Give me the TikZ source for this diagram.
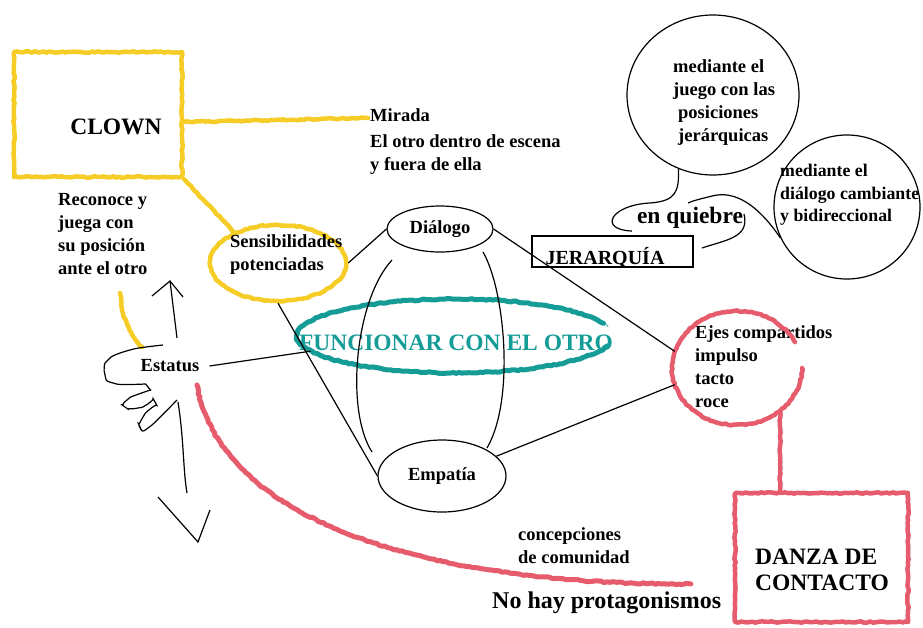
\documentclass[tikz,border=0pt]{standalone}
\usepackage{fontspec}
\setmainfont{Liberation Serif}
\usetikzlibrary{positioning}
\usetikzlibrary{calc}
\usetikzlibrary{shapes.geometric}
\usetikzlibrary{decorations.pathmorphing}
\definecolor{clownyellow}{RGB}{246,204,38}
\definecolor{danzared}{RGB}{230,92,108}
\definecolor{otroteal}{RGB}{22,156,151}
\pgfmathsetseed{7}

\tikzset{
  rough/.style={line width=#1, line cap=round, line join=round, decorate,
    decoration={random steps, segment length=3pt, amplitude=0.7pt}},
  rough/.default=4.5pt,
  txt/.style={font=\bfseries\fontsize{18.5}{23}\selectfont, align=left, inner sep=0pt},
  big/.style={font=\bfseries\fontsize{23.5}{26}\selectfont, align=left, inner sep=0pt},
  blk/.style={line width=1.2pt},
  ybox/.style={draw=clownyellow, rough, rectangle},
  rbox/.style={draw=danzared, rough, rectangle},
  yellip/.style={draw=clownyellow, rough, ellipse},
  bellip/.style={draw, blk, ellipse},
  bubble/.style={draw, blk, ellipse, inner sep=0pt},
}

\begin{document}
\begin{tikzpicture}[x=1pt,y=-1pt]
        \useasboundingbox (0,0) rectangle (923,627);

        % nodes %
        \node[ybox, minimum width=168pt, minimum height=125pt] (clown) at (98,114.5) {};
        \node[big] (clowntxt) at (116,127) {CLOWN};
        \node[txt, anchor=west] (mirada) at (370,142) {Mirada\\[3pt]El otro dentro de escena\\y fuera de ella};
        \node[txt, anchor=west] (reconoce) at (58,234) {Reconoce y\\juega con\\su posición\\ante el otro};
        \node[yellip, minimum width=136pt, minimum height=76pt] (sens) at (278,263) {};
        \node[txt, anchor=west] (senstxt) at (230,255) {Sensibilidades\\potenciadas};
        \node[txt] (estatus) at (170,366) {Estatus};

        \node[ellipse, minimum width=316pt, minimum height=74pt] (func) at (455,336) {};
        \node[big, text=otroteal] (functxt) at (456,343) {FUNCIONAR CON EL OTRO};

        \node[txt, bellip, inner sep=0pt, minimum width=106pt, minimum height=46pt] (dialogo) at (440,229) {Diálogo};
        \node[txt, bellip, inner sep=0pt, minimum width=128pt, minimum height=72pt] (empatia) at (442,476) {Empatía};

        \node[draw, blk, minimum width=161pt, minimum height=31pt] (jer) at (612.5,251.5) {};
        \node[font=\bfseries\fontsize{20}{22}\selectfont, inner sep=0pt] (jertxt) at (605,258) {JERARQUÍA};
        \node[big] (quiebre) at (690,218) {en quiebre};

        \node[bubble, minimum width=172pt, minimum height=160pt] (juego) at (713,95) {};
        \node[txt, anchor=west] (juegotxt) at (673,103) {mediante el\\juego con las\\\hspace*{5pt}posiciones\\\hspace*{5pt}jerárquicas};
        \node[bubble, minimum width=146pt, minimum height=144pt] (cambio) at (847,207) {};
        \node[txt, anchor=west, font=\bfseries\fontsize{17.8}{22.5}\selectfont] (cambiotxt) at (780,195) {mediante el\\diálogo cambiante\\y bidireccional};

        \node[ellipse, minimum width=130pt, minimum height=114pt] (ejes) at (737,368) {};
        \node[txt, anchor=west] (ejestxt) at (695,367) {Ejes compartidos\\impulso\\tacto\\roce};

        \node[rbox, minimum width=173pt, minimum height=129pt] (danza) at (821.5,557.5) {};
        \node[big, anchor=west] (danzatxt) at (755,570) {DANZA DE\\CONTACTO};

        \node[txt, anchor=west] (comunidad) at (518,546) {concepciones\\de comunidad};
        \node[font=\bfseries\fontsize{24}{26}\selectfont, inner sep=0pt, anchor=west] (protag) at (492,603) {No hay protagonismos};

        % loose ends %
        \coordinate (mir) at (368,118);
        \coordinate (uptip) at (170,281);
        \coordinate (downtip) at (198,542);
        \coordinate (arcLa) at (392,260);
        \coordinate (arcLb) at (372,452);
        \coordinate (arcRa) at (483,252);
        \coordinate (arcRb) at (487,448);
        \coordinate (quiebreA) at (632,231);
        \coordinate (quiebreB) at (688,203);
        \coordinate (quiebreC) at (702,248);
        \coordinate (quiebreD) at (744,214);
        \coordinate (protagend) at (690,584);

        % colour edges %
        \draw[clownyellow, rough] (clown.east |- mir) ++(0,4) -- (mir);
        \draw[clownyellow, rough] (clown.south east) -- (sens.145);
        \draw[clownyellow, rough] (120,293) .. controls (122,318) and (130,335) .. (142,347);
        \draw[otroteal, rough=5pt] (func.center) ++(-20:158 and 37) arc[start angle=-20, end angle=-345, x radius=158, y radius=37];
        \draw[otroteal, rough=2pt, dotted, opacity=0.5] (func.center) ++(-15:158 and 37) arc[start angle=-15, end angle=-60, x radius=158, y radius=37];
        \draw[danzared, rough] (ejes.center) ++(-27:65 and 57) arc[start angle=-27, end angle=-360, x radius=65, y radius=57];
        \draw[danzared, rough] (ejes.-45) -- (ejes.-45 |- danza.north);
        \draw[danzared, rough=5pt] (197,385) .. controls (222,530) and (450,585) .. (protagend);

        % edges %
        \draw[blk] ([xshift=10pt]estatus.east) -- (func.186);
        \draw[blk] (sens.east) -- (dialogo.west);
        \draw[blk] (sens.south) -- (empatia.west);
        \draw[blk] (dialogo.east) -- (ejes.165);
        \draw[blk] (empatia.20) -- (ejes.195);
        \draw[blk] (arcLa) .. controls (355,300) and (345,410) .. (arcLb);
        \draw[blk] (arcRa) .. controls (505,290) and (515,400) .. (arcRb);
        \draw[blk] (juego.-115) .. controls (679,192) and (676,201) .. (650,203)
                                .. controls (610,205) and (598,230) .. (quiebreA);
        \draw[blk] (cambio.205) .. controls (758,205) and (735,190) .. (712,196)
                                .. controls (700,199) and (692,201) .. (quiebreB);
        \draw[blk] (quiebreC) .. controls (725,240) and (750,238) .. (quiebreD);

        % estatus scribble %
        \draw[blk] (177,338) -- (uptip);
        \draw[blk] (152,296) -- (uptip) -- (183,297);
        \draw[blk] (178,402) .. controls (184,440) and (183,470) .. (187,493);
        \draw[blk] (158,497) -- (downtip) -- (210,510);
        \draw[blk, rounded corners=4pt] plot[smooth, tension=0.6] coordinates {(163,345) (130,350) (108,360) (105,375) (113,383) (148,387) (127,400) (125,407) (138,408) (155,402) (143,417) (140,427) (148,428) (177,400)};
\end{tikzpicture}
\end{document}
